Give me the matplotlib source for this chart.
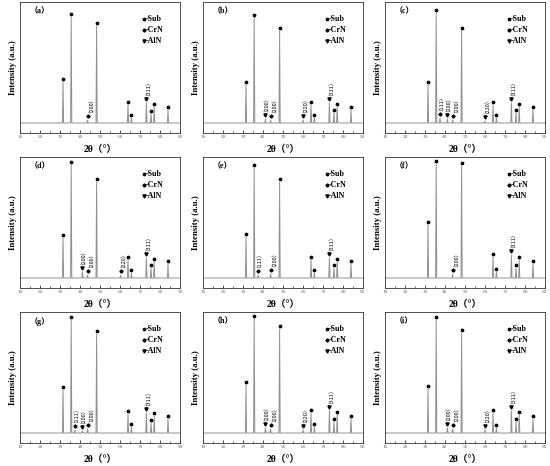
import matplotlib
matplotlib.use("Agg")
import matplotlib.pyplot as plt
from matplotlib.ticker import MultipleLocator

plt.rcParams['font.family'] = ['Liberation Serif', 'Noto Sans CJK SC', 'DejaVu Sans']

panel_labels = ['a', 'b', 'c', 'd', 'e', 'f', 'g', 'h', 'i']

# Substrate peaks (2theta) and heights per panel
sub_pos = [31.5, 35.6, 48.3, 64.0, 65.7, 75.5, 77.1, 84.0]
sub_h = [
    [41, 106, 97, 18, 5, 9, 16, 13],
    [38, 105, 92, 18, 5, 10, 16, 13],
    [38, 110, 92, 18, 5, 10, 16, 13],
    [40, 113, 96, 18, 5, 10, 16, 14],
    [41, 110, 96, 18, 5, 10, 16, 14],
    [53, 114, 112, 21, 6, 10, 18, 14],
    [43, 113, 99, 19, 6, 10, 17, 14],
    [48, 114, 104, 20, 6, 11, 18, 14],
    [44, 113, 100, 20, 5, 11, 18, 14],
]

# Film peaks: phase, position, hkl label, heights per panel (0 = absent)
film_phase = ['CrN', 'AlN', 'CrN', 'AlN', 'CrN', 'AlN']
film_pos = [37.5, 41.2, 43.8, 60.0, 60.3, 73.2]
film_hkl = ['111', '200', '200', '220', '220', '311']
film_h = [
    [0, 0, 5, 0, 3, 0, 3, 0, 0],
    [0, 4, 4, 6, 0, 0, 2, 5, 5],
    [3, 3, 3, 3, 4, 4, 4, 4, 4],
    [0, 3, 2, 0, 0, 0, 0, 3, 3],
    [0, 0, 0, 3, 0, 0, 0, 0, 0],
    [20, 20, 20, 20, 20, 23, 20, 22, 22],
]
# small horizontal shift of the hkl labels (style, keeps crowded labels apart)
label_dx = [-0.7, -0.7, 0.5, 0.0, 0.0, 0.0]

xticks = [10, 20, 30, 40, 50, 60, 70, 80, 90]
legend_items = ['-Sub', '-CrN', '-AlN']

markers = {'Sub': 'o', 'CrN': 'D', 'AlN': 'v'}
msize = {'Sub': 1.7, 'CrN': 1.6, 'AlN': 2.3}

W, H = 550, 466
fig = plt.figure(figsize=(W / 100, H / 100), dpi=100)

col_left = [20, 203, 385]
row_top = [2, 157, 312]
ax_w, ax_h = 160, 131
hw = 0.3

for k, lab in enumerate(panel_labels):
    r, c = divmod(k, 3)
    ax = fig.add_axes([col_left[c] / W, 1 - (row_top[r] + ax_h) / H, ax_w / W, ax_h / H])
    peaks = [(p, h, 'Sub', None, 0.0) for p, h in zip(sub_pos, sub_h[k])]
    for j in range(len(film_pos)):
        if film_h[j][k] > 0:
            peaks.append((film_pos[j], film_h[j][k], film_phase[j], film_hkl[j], label_dx[j]))
    peaks.sort(key=lambda t: t[0])
    xs, ys = [xticks[0]], [0]
    for p, h, ph, hkl, dx in peaks:
        xs += [p - hw, p, p + hw]
        ys += [0, h, 0]
    xs.append(xticks[-1]); ys.append(0)
    ax.plot(xs, ys, color='#909090', lw=0.7)
    for p, h, ph, hkl, dx in peaks:
        off = 3.0 if ph == 'Sub' else 4.5
        ax.plot(p, h + off, marker=markers[ph], ms=msize[ph], color='black', mec='black', ls='none')
        if hkl is not None:
            ax.text(p + dx, h + off + 2.5, '（' + hkl + '）', rotation=90, ha='center', va='bottom',
                    fontsize=4.0, color='black', family=['Noto Sans CJK SC', 'DejaVu Sans'])
    ax.set_xlim(10, 90)
    ax.set_ylim(-10, 121)
    ax.set_yticks([])
    ax.set_xticks(xticks)
    ax.set_xticklabels([str(t) for t in xticks], fontsize=3.8, color='#666666')
    ax.xaxis.set_minor_locator(MultipleLocator(5))
    ax.tick_params(axis='x', which='major', direction='in', length=2, width=0.5, pad=1.5)
    ax.tick_params(axis='x', which='minor', direction='in', length=1.2, width=0.4)
    for s in ax.spines.values():
        s.set_linewidth(0.6)
        s.set_color('#333333')
    ax.set_xlabel('2θ（°）', fontsize=7, fontweight='bold', labelpad=4)
    ax.set_ylabel('Intensity (a.u.)', fontsize=6.3, fontweight='bold', labelpad=2)
    ax.text(0.06, 0.93, '（' + lab + '）', transform=ax.transAxes, fontsize=5.8,
            fontweight='bold', va='center', ha='left')
    for i, (txt, ph) in enumerate(zip(legend_items, ['Sub', 'CrN', 'AlN'])):
        yy = 0.87 - i * 0.083
        ax.plot(0.775, yy, marker=markers[ph], ms=msize[ph], color='black',
                transform=ax.transAxes, ls='none')
        ax.text(0.783, yy, txt, transform=ax.transAxes, fontsize=5.8, fontweight='bold',
                va='center', ha='left')

fig.savefig('out.png', dpi=100)
